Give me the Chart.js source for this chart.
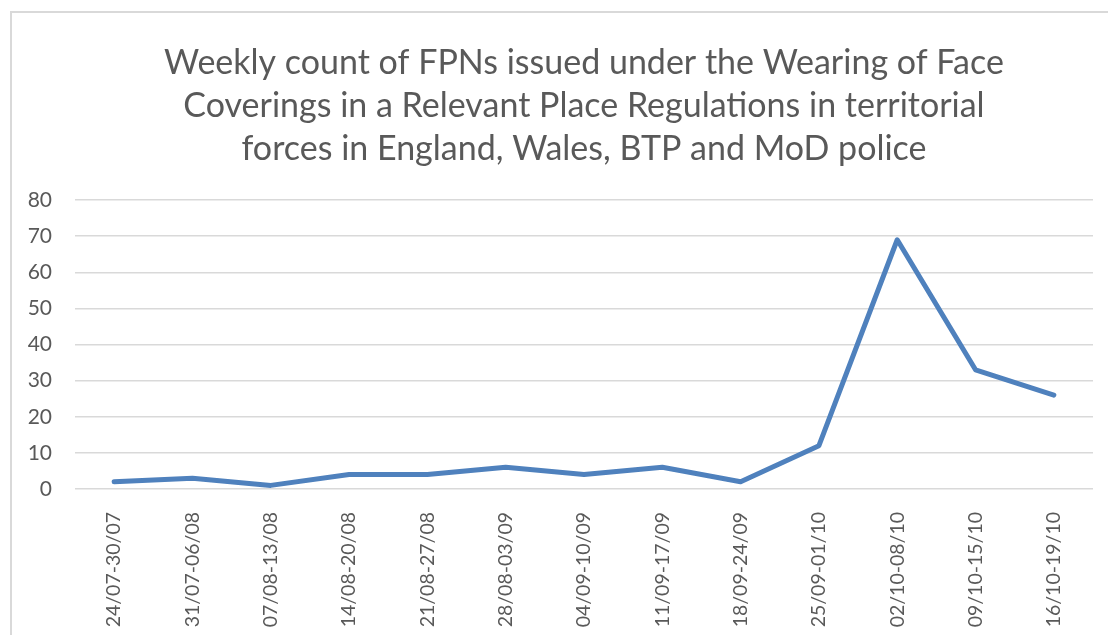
<!DOCTYPE html>
<html>
<head>
<meta charset="utf-8">
<script src="https://cdn.jsdelivr.net/npm/chart.js@4/dist/chart.umd.min.js"></script>
<style>
  html, body { margin: 0; padding: 0; background: #fff; }
  #wrap { position: relative; width: 1108px; height: 635px; overflow: hidden; }
  #frame {
    position: absolute; left: 10px; top: 11px; width: 1200px; height: 700px;
    border-left: 2px solid #d9d9d9; border-top: 2px solid #d9d9d9;
    pointer-events: none;
  }
</style>
</head>
<body>
<div id="wrap">
  <canvas id="chart" width="1108" height="635"></canvas>
  <div id="frame"></div>
</div>
<script>
  // weekly periods (dd/mm-dd/mm)
  const weeks = ['24/07-30/07', '31/07-06/08', '07/08-13/08', '14/08-20/08', '21/08-27/08',
    '28/08-03/09', '04/09-10/09', '11/09-17/09', '18/09-24/09', '25/09-01/10',
    '02/10-08/10', '09/10-15/10', '16/10-19/10'];
  const fpnCounts = [2, 3, 1, 4, 4, 6, 4, 6, 2, 12, 69, 33, 26];
  const yTicks = [0, 10, 20, 30, 40, 50, 60, 70, 80];
  const titleLines = [
    'Weekly count of FPNs issued under the Wearing of Face',
    'Coverings in a Relevant Place Regulations in territorial',
    'forces in England, Wales, BTP and MoD police'
  ];

  const textColor = '#595959';
  const gridColor = '#d9d9d9';

  const ctx = document.getElementById('chart').getContext('2d');
  new Chart(ctx, {
    type: 'line',
    data: {
      labels: weeks,
      datasets: [{
        label: 'FPNs issued',
        data: fpnCounts,
        borderColor: '#4f81bd',
        borderWidth: 5,
        pointRadius: 0,
        tension: 0,
        borderJoinStyle: 'round',
        borderCapStyle: 'round',
        fill: false
      }]
    },
    options: {
      responsive: false,
      animation: false,
      layout: { padding: { left: 0, right: 15, top: 0, bottom: 0 } },
      plugins: {
        legend: { display: false },
        tooltip: { enabled: false },
        title: {
          display: true,
          fullSize: false,
          text: titleLines,
          color: textColor,
          font: { family: 'Lato', size: 34, weight: 'normal', lineHeight: 1.265 },
          padding: { top: 42, bottom: 29 }
        }
      },
      scales: {
        x: {
          offset: true,
          grid: { display: false },
          border: { display: false },
          ticks: {
            color: textColor,
            font: { family: 'Lato', size: 19.5 },
            maxRotation: 90,
            minRotation: 90,
            padding: 15,
            autoSkip: false
          },
          afterFit: function (scale) { scale.height = 146; }
        },
        y: {
          min: yTicks[0],
          max: yTicks[yTicks.length - 1],
          afterBuildTicks: function (scale) {
            scale.ticks = yTicks.map(v => ({ value: v }));
          },
          grid: { color: gridColor, lineWidth: 1.5, drawTicks: false },
          border: { display: false },
          ticks: {
            color: textColor,
            font: { family: 'Lato', size: 21 },
            padding: 23
          },
          afterFit: function (scale) { scale.width = 75; }
        }
      }
    }
  });
</script>
</body>
</html>
